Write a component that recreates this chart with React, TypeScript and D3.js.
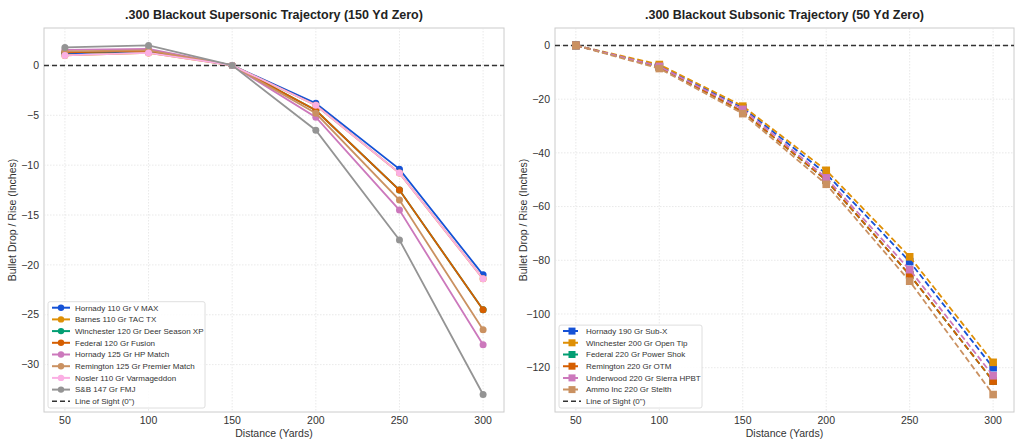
import * as d3 from "d3";

const DISTANCES = [50, 100, 150, 200, 250, 300];

// Supersonic loads, 150 yd zero (inches)
const SUPER_NAMES = [
  "Hornady 110 Gr V MAX",
  "Barnes 110 Gr TAC TX",
  "Winchester 120 Gr Deer Season XP",
  "Federal 120 Gr Fusion",
  "Hornady 125 Gr HP Match",
  "Remington 125 Gr Premier Match",
  "Nosler 110 Gr Varmageddon",
  "S&B 147 Gr FMJ",
];
const SUPER_VALUES = [
  [1.2, 1.4, 0, -3.8, -10.4, -21.0],
  [1.0, 1.25, 0, -4.0, -10.8, -21.4],
  [1.3, 1.45, 0, -4.5, -12.5, -24.5],
  [1.3, 1.45, 0, -4.5, -12.5, -24.5],
  [1.55, 1.65, 0, -5.2, -14.5, -28.0],
  [1.4, 1.5, 0, -4.8, -13.5, -26.5],
  [1.0, 1.25, 0, -4.0, -10.8, -21.4],
  [1.8, 2.0, 0, -6.5, -17.5, -33.0],
];

// Subsonic loads, 50 yd zero (inches)
const SUB_NAMES = [
  "Hornady 190 Gr Sub-X",
  "Winchester 200 Gr Open Tip",
  "Federal 220 Gr Power Shok",
  "Remington 220 Gr OTM",
  "Underwood 220 Gr Sierra HPBT",
  "Ammo Inc 220 Gr Stelth",
];
const SUB_VALUES = [
  [0, -7.6, -23.2, -47.8, -80.5, -120.0],
  [0, -7.1, -22.6, -46.5, -78.7, -118.0],
  [0, -8.0, -24.7, -50.2, -85.4, -125.0],
  [0, -8.0, -24.7, -50.2, -85.4, -125.0],
  [0, -7.8, -23.8, -49.3, -83.5, -123.0],
  [0, -8.6, -25.4, -51.7, -87.8, -130.0],
];

const SUPER_Y_TICKS = [0, -5, -10, -15, -20, -25, -30];
const SUB_Y_TICKS = [0, -20, -40, -60, -80, -100, -120];

const COLORS = ["#1552d6", "#de8f05", "#029e73", "#d55e00", "#cc78bc", "#ca9161", "#fbafe4", "#949494"];

const W = 1024;
const H = 448;
const TOP = 28;
const BOTTOM = 412;
const FONT = "'Liberation Sans', Arial, sans-serif";

const fmt = (v: number) => (v < 0 ? `\u2212${-v}` : `${v}`);

interface PanelProps {
  x0: number;
  x1: number;
  title: string;
  names: string[];
  values: number[][];
  yTicks: number[];
  marker: "circle" | "square";
  dashed: boolean;
  legendW: number;
}

function Panel({ x0, x1, title, names, values, yTicks, marker, dashed, legendW }: PanelProps) {
  const all = values.flat();
  const lo = d3.min(all) as number;
  const hi = d3.max(all) as number;
  const pad = (hi - lo) * 0.05;
  const y = d3.scaleLinear().domain([lo - pad, hi + pad]).range([BOTTOM, TOP]);
  const x = d3.scaleLinear().domain([37.5, 312.5]).range([x0, x1]);
  const line = d3
    .line<number>()
    .x((_, i) => x(DISTANCES[i]))
    .y((v) => y(v));

  const rowH = 11.7;
  const rows = names.length + 1;
  const legX = x0 + 4;
  const legH = rows * rowH + 1;
  const legY = BOTTOM - 4 - legH;

  return (
    <g>
      <rect x={x0} y={TOP} width={x1 - x0} height={BOTTOM - TOP} fill="#fff" stroke="#cccccc" strokeWidth={1} />
      {DISTANCES.map((d) => (
        <line key={`gx${d}`} x1={x(d)} x2={x(d)} y1={TOP} y2={BOTTOM} stroke="#e3e3e3" strokeWidth={0.8} strokeDasharray="1.5,1.5" />
      ))}
      {yTicks.map((t) => (
        <line key={`gy${t}`} x1={x0} x2={x1} y1={y(t)} y2={y(t)} stroke="#e3e3e3" strokeWidth={0.8} strokeDasharray="1.5,1.5" />
      ))}
      {DISTANCES.map((d) => (
        <text key={`tx${d}`} x={x(d)} y={BOTTOM + 12} textAnchor="middle" fontSize={10.5} fill="#333" fontFamily={FONT}>
          {d}
        </text>
      ))}
      {yTicks.map((t) => (
        <text key={`ty${t}`} x={x0 - 5} y={y(t)} dy="0.35em" textAnchor="end" fontSize={10.5} fill="#333" fontFamily={FONT}>
          {fmt(t)}
        </text>
      ))}
      <text x={(x0 + x1) / 2} y={19} textAnchor="middle" fontSize={12.5} fontWeight="bold" fill="#222" fontFamily={FONT}>
        {title}
      </text>
      <text x={(x0 + x1) / 2} y={437} textAnchor="middle" fontSize={10.5} fill="#333" fontFamily={FONT}>
        Distance (Yards)
      </text>
      <text
        transform={`translate(${x0 - 28},${(TOP + BOTTOM) / 2}) rotate(-90)`}
        textAnchor="middle"
        fontSize={10.5}
        fill="#333"
        fontFamily={FONT}
      >
        Bullet Drop / Rise (Inches)
      </text>
      <line x1={x0} x2={x1} y1={y(0)} y2={y(0)} stroke="#333" strokeWidth={1.5} strokeDasharray="5,3" />
      {values.map((vals, s) => (
        <g key={names[s]}>
          <path
            d={line(vals) ?? ""}
            fill="none"
            stroke={COLORS[s]}
            strokeWidth={1.8}
            strokeDasharray={dashed ? "6,3" : undefined}
          />
          {vals.map((v, i) =>
            marker === "circle" ? (
              <circle key={i} cx={x(DISTANCES[i])} cy={y(v)} r={3.5} fill={COLORS[s]} />
            ) : (
              <rect key={i} x={x(DISTANCES[i]) - 3.8} y={y(v) - 3.8} width={7.6} height={7.6} fill={COLORS[s]} />
            ),
          )}
        </g>
      ))}
      <g>
        <rect x={legX} y={legY} width={legendW} height={legH} fill="#fff" fillOpacity={0.85} stroke="#d6d6d6" strokeWidth={0.8} rx={2} />
        {names.map((n, i) => {
          const cy = legY + 6 + rowH * i;
          return (
            <g key={n}>
              <line x1={legX + 4} x2={legX + 22} y1={cy} y2={cy} stroke={COLORS[i]} strokeWidth={2} strokeDasharray={dashed ? "6,3" : undefined} />
              {marker === "circle" ? (
                <circle cx={legX + 13} cy={cy} r={3.2} fill={COLORS[i]} />
              ) : (
                <rect x={legX + 9.5} y={cy - 3.5} width={7} height={7} fill={COLORS[i]} />
              )}
              <text x={legX + 27} y={cy} dy="0.35em" fontSize={8} fill="#333" fontFamily={FONT}>
                {n}
              </text>
            </g>
          );
        })}
        <line
          x1={legX + 4}
          x2={legX + 22}
          y1={legY + 6 + rowH * names.length}
          y2={legY + 6 + rowH * names.length}
          stroke="#333"
          strokeWidth={1.5}
          strokeDasharray="5,3"
        />
        <text x={legX + 27} y={legY + 6 + rowH * names.length} dy="0.35em" fontSize={8} fill="#333" fontFamily={FONT}>
          Line of Sight (0")
        </text>
      </g>
    </g>
  );
}

export default function App() {
  return (
    <svg width={W} height={H} style={{ display: "block", position: "absolute", left: 0, top: 0 }}>
      <rect width={W} height={H} fill="#fff" />
      <Panel
        x0={44}
        x1={504}
        title=".300 Blackout Supersonic Trajectory (150 Yd Zero)"
        names={SUPER_NAMES}
        values={SUPER_VALUES}
        yTicks={SUPER_Y_TICKS}
        marker="circle"
        dashed={false}
        legendW={157}
      />
      <Panel
        x0={555}
        x1={1014}
        title=".300 Blackout Subsonic Trajectory (50 Yd Zero)"
        names={SUB_NAMES}
        values={SUB_VALUES}
        yTicks={SUB_Y_TICKS}
        marker="square"
        dashed={true}
        legendW={143}
      />
    </svg>
  );
}
